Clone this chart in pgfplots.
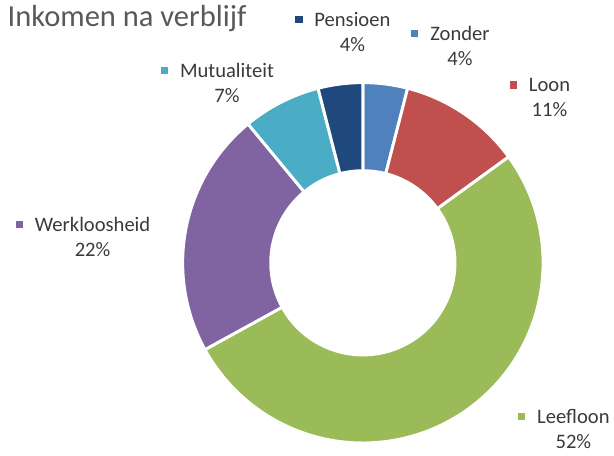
\documentclass[border=0pt]{standalone}
\usepackage{pgfplots}
\usepackage{pgfplotstable}
\pgfplotsset{compat=1.18}
\usepackage{fontspec}
\setmainfont{Carlito}
\definecolor{zonder}{HTML}{4F81BD}
\definecolor{loon}{HTML}{C0504D}
\definecolor{leefloon}{HTML}{9BBB59}
\definecolor{werk}{HTML}{8064A2}
\definecolor{mutu}{HTML}{4BACC6}
\definecolor{pens}{HTML}{1F497D}
\definecolor{txt}{HTML}{3A3A3A}
\definecolor{ttl}{HTML}{595959}
\pgfplotstableread{
label value color
Zonder 4 zonder
Loon 11 loon
Leefloon 52 leefloon
Werkloosheid 22 werk
Mutualiteit 7 mutu
Pensioen 4 pens
}\slices
\newcommand{\lab}[3]{\llap{{\color{#1}\rule[0.3ex]{5.5pt}{5.5pt}}\hspace{9pt}}#2\\#3}
\begin{document}
\begin{tikzpicture}
\begin{axis}[
  x=0.75pt, y=0.75pt,
  xmin=0, xmax=614, ymin=0, ymax=450,
  hide axis, clip=false, enlargelimits=false,
]
\addplot[draw=none, forget plot] coordinates {(0,0) (614,450)};
\def\cum{0}
\pgfplotsforeachungrouped \i in {0,...,5}{%
  \pgfplotstablegetelem{\i}{value}\of\slices
  \let\v\pgfplotsretval
  \pgfplotstablegetelem{\i}{color}\of\slices
  \let\c\pgfplotsretval
  \pgfmathsetmacro\a{90-3.6*\cum}%
  \pgfmathsetmacro\b{90-3.6*(\cum+\v)}%
  \pgfmathsetmacro\newcum{\cum+\v}%
  \edef\temp{\noexpand\fill[\c, draw=white, line width=2.2pt, line join=round]
    ([shift={(\a:135.75pt)}]axis cs:364.5,186)
    arc[start angle=\a, end angle=\b, radius=135.75pt]
    -- ([shift={(\b:69.4pt)}]axis cs:364.5,186)
    arc[start angle=\b, end angle=\a, radius=69.4pt] -- cycle;}%
  \temp
  \global\let\cum\newcum
}
\node[anchor=base west, text=ttl, font=\fontsize{23}{26}\selectfont] at (axis cs:3,423) {Inkomen na verblijf};
\begin{scope}[every node/.style={align=center, text=txt, font=\fontsize{15.5}{19}\selectfont}]
\node at (axis cs:354,418) {\lab{pens}{Pensioen}{4\%}};
\node at (axis cs:462,404) {\lab{zonder}{Zonder}{4\%}};
\node at (axis cs:552,352) {\lab{loon}{Loon}{11\%}};
\node at (axis cs:228,367) {\lab{mutu}{Mutualiteit}{7\%}};
\node at (axis cs:93,212) {\lab{werk}{Werkloosheid}{22\%}};
\node at (axis cs:576,19) {\lab{leefloon}{Leefloon}{52\%}};
\end{scope}
\end{axis}
\end{tikzpicture}
\end{document}
